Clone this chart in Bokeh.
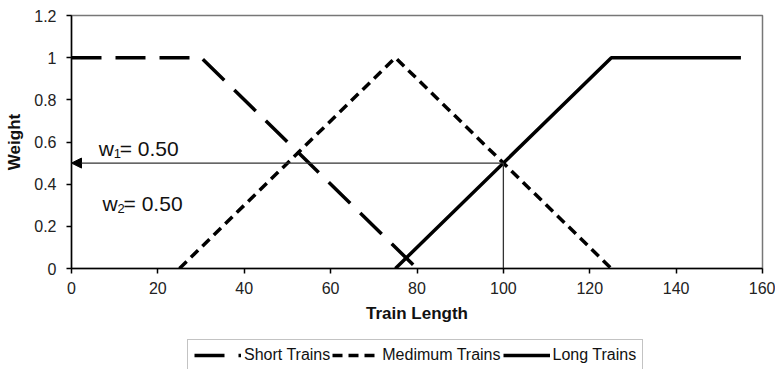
from bokeh.plotting import figure
from bokeh.layouts import column
from bokeh.models import (Range1d, FixedTicker, CustomJSTickFormatter, Legend,
                          Arrow, NormalHead, Segment, ColumnDataSource, Label)
from bokeh.embed import file_html
from bokeh.resources import INLINE

# Membership functions (train length -> weight)
short_x = [0, 30, 80]
short_w = [1, 1, 0]
medium_x = [25, 75, 125]
medium_w = [0, 1, 0]
long_x = [75, 125, 155]
long_w = [0, 1, 1]
series_names = ["Short Trains", "Medimum Trains", "Long Trains"]

# Evaluation point and resulting weights
eval_length = 100
eval_weight = 0.5
w1_value = 0.50
w2_value = 0.50

x_ticks = [0, 20, 40, 60, 80, 100, 120, 140, 160]
y_ticks = [0, 0.2, 0.4, 0.6, 0.8, 1.0, 1.2]

FONT = "Liberation Sans"
STYLES = [dict(line_color="black", line_width=3.5, line_dash="30 14"),
          dict(line_color="black", line_width=3.5, line_dash="10 6"),
          dict(line_color="black", line_width=3.5)]

p = figure(width=775, height=338, output_backend="svg", toolbar_location=None,
           x_range=Range1d(0, 160), y_range=Range1d(0, 1.2),
           min_border_left=71, min_border_right=13, min_border_top=15,
           min_border_bottom=70)
p.background_fill_color = "white"
p.border_fill_color = "white"
p.outline_line_color = "#777777"
p.outline_line_width = 1.5
p.xgrid.visible = False
p.ygrid.visible = False

for ax in (p.xaxis[0], p.yaxis[0]):
    ax.axis_line_color = "black"
    ax.axis_line_width = 1.5
    ax.major_tick_line_color = "black"
    ax.major_tick_line_width = 1.5
    ax.major_tick_in = 0
    ax.major_tick_out = 5
    ax.minor_tick_line_color = None
    ax.major_label_text_font = FONT
    ax.major_label_text_font_size = "16px"
    ax.major_label_text_color = "#222222"
    ax.axis_label_text_font = FONT
    ax.axis_label_text_font_size = "17px"
    ax.axis_label_text_font_style = "bold"
    ax.axis_label_text_color = "#111111"

p.xaxis.ticker = FixedTicker(ticks=x_ticks)
p.yaxis.ticker = FixedTicker(ticks=y_ticks)
p.yaxis.formatter = CustomJSTickFormatter(code="return String(+tick.toFixed(1));")
p.xaxis.axis_label = "Train Length"
p.yaxis.axis_label = "Weight"
p.xaxis.major_label_standoff = 8
p.yaxis.major_label_standoff = 10
p.xaxis.axis_label_standoff = 7
p.yaxis.axis_label_standoff = 7

for xs, ws, style in zip([short_x, medium_x, long_x],
                         [short_w, medium_w, long_w], STYLES):
    p.line(xs, ws, **style)

# Read-off lines: vertical up to the curve, arrow across to the weight axis
guide = ColumnDataSource(data=dict(x0=[eval_length], y0=[0],
                                   x1=[eval_length], y1=[eval_weight]))
p.add_glyph(guide, Segment(x0="x0", y0="y0", x1="x1", y1="y1",
                           line_color="#333333", line_width=1.3))
p.add_layout(Arrow(x_start=eval_length, y_start=eval_weight,
                   x_end=0, y_end=eval_weight,
                   line_color="#333333", line_width=1.3,
                   end=NormalHead(size=10, fill_color="black",
                                  line_color="black")))


def weight_label(x, y, sub, val):
    common = dict(x=x, y=y, text_font=FONT, text_color="#111111",
                  text_baseline="alphabetic")
    p.add_layout(Label(text="w", text_font_size="21px", **common))
    p.add_layout(Label(text=sub, text_font_size="13px", x_offset=15,
                       y_offset=-5, **common))
    p.add_layout(Label(text="= %.2f" % val, text_font_size="21px",
                       x_offset=21, **common))


weight_label(6.3, 0.569, "1", w1_value)
weight_label(7.2, 0.308, "2", w2_value)

# Key strip below the chart; its line renderers carry only the styles
key = figure(width=775, height=31, output_backend="svg", toolbar_location=None,
             x_axis_type=None, y_axis_type=None,
             x_range=Range1d(0, 1), y_range=Range1d(0, 1),
             min_border=0)
key.outline_line_color = None
key.xgrid.visible = False
key.ygrid.visible = False
nan = float("nan")
key_renderers = [key.line([nan, nan], [nan, nan], **style) for style in STYLES]

legend = Legend(items=[(name, [r]) for name, r in zip(series_names, key_renderers)],
                orientation="horizontal", location=(116, -2),
                glyph_width=47, glyph_height=16, label_height=16,
                label_standoff=3, spacing=2, padding=6, margin=0,
                label_text_font=FONT, label_text_font_size="16px",
                label_text_color="#111111",
                border_line_color="#888888", border_line_width=1.5,
                background_fill_color="white", background_fill_alpha=1)
key.add_layout(legend, "center")

layout = column(p, key, spacing=0)
open("out.html", "w").write(file_html(layout, INLINE))
